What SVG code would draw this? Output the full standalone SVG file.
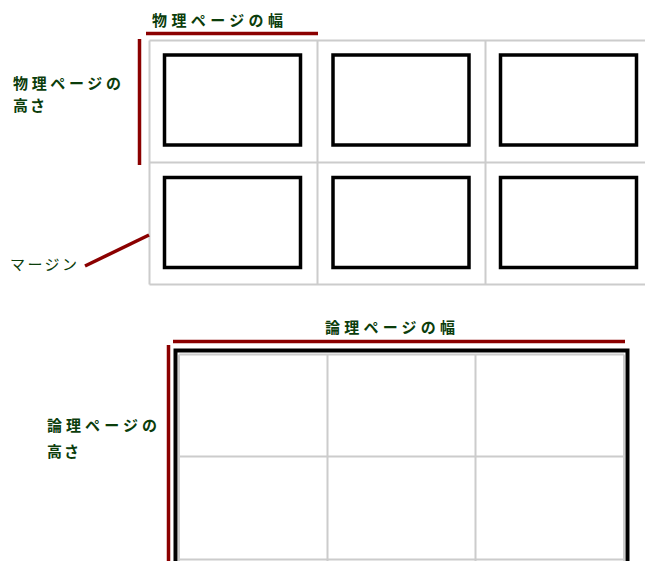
<svg xmlns="http://www.w3.org/2000/svg" width="645" height="561" viewBox="0 0 645 561">
<style>
.lbl{font-family:"Noto Sans CJK JP","Noto Sans CJK SC",sans-serif;font-size:15px;font-weight:bold;fill:#0b3d0b}
.lbl2{font-family:"Noto Sans CJK JP","Noto Sans CJK SC",sans-serif;font-size:15px;fill:#0b3d0b}
.grid{stroke:#cccccc;stroke-width:2;fill:none}
.page{stroke:#000;stroke-width:3.5;fill:#fff}
.dim{stroke:#8b0000;stroke-width:3.5;fill:none}
</style>
<rect width="645" height="561" fill="#fff"/>
<g id="physical-sheet">
<path class="grid" d="M149.5,40.5H645M149.5,162.5H645M149.5,284.5H645M149.5,40.5V284.5M317.5,40.5V284.5M485.5,40.5V284.5"/>
</g>
<g id="page-1-1"><rect class="page" x="164.5" y="55" width="136" height="90"/></g>
<g id="page-1-2"><rect class="page" x="333" y="55" width="136" height="90"/></g>
<g id="page-1-3"><rect class="page" x="500.5" y="55" width="136" height="90"/></g>
<g id="page-2-1"><rect class="page" x="164.5" y="177.5" width="136" height="90"/></g>
<g id="page-2-2"><rect class="page" x="333" y="177.5" width="136" height="90"/></g>
<g id="page-2-3"><rect class="page" x="500.5" y="177.5" width="136" height="90"/></g>
<g id="logical-page">
<rect x="175.5" y="350.5" width="452" height="230" fill="#fff" stroke="#000" stroke-width="4"/>
<path class="grid" d="M179,354.5H624M179,456.5H624M179,559.5H624M179,354.5V561M327.5,354.5V561M475.5,354.5V561M624,354.5V561"/>
</g>
<g id="connectors">
<line class="dim" x1="146" y1="33.5" x2="318" y2="33.5"/>
<line class="dim" x1="139.5" y1="39" x2="139.5" y2="165"/>
<line class="dim" x1="85" y1="266" x2="149" y2="235"/>
<line class="dim" x1="173" y1="341.5" x2="625" y2="341.5"/>
<line class="dim" x1="168.5" y1="345" x2="168.5" y2="561"/>
</g>
<g id="labels">
<text class="lbl" x="152" y="26" textLength="131" lengthAdjust="spacing">物理ページの幅</text>
<text class="lbl" x="13" y="88.5" textLength="108" lengthAdjust="spacing">物理ページの</text>
<text class="lbl" x="13" y="111" textLength="32" lengthAdjust="spacing">高さ</text>
<text class="lbl2" x="10" y="269.5" textLength="67" lengthAdjust="spacing">マージン</text>
<text class="lbl" x="325" y="332.5" textLength="130" lengthAdjust="spacing">論理ページの幅</text>
<text class="lbl" x="47" y="431" textLength="110" lengthAdjust="spacing">論理ページの</text>
<text class="lbl" x="47" y="457" textLength="32" lengthAdjust="spacing">高さ</text>
</g>
</svg>
